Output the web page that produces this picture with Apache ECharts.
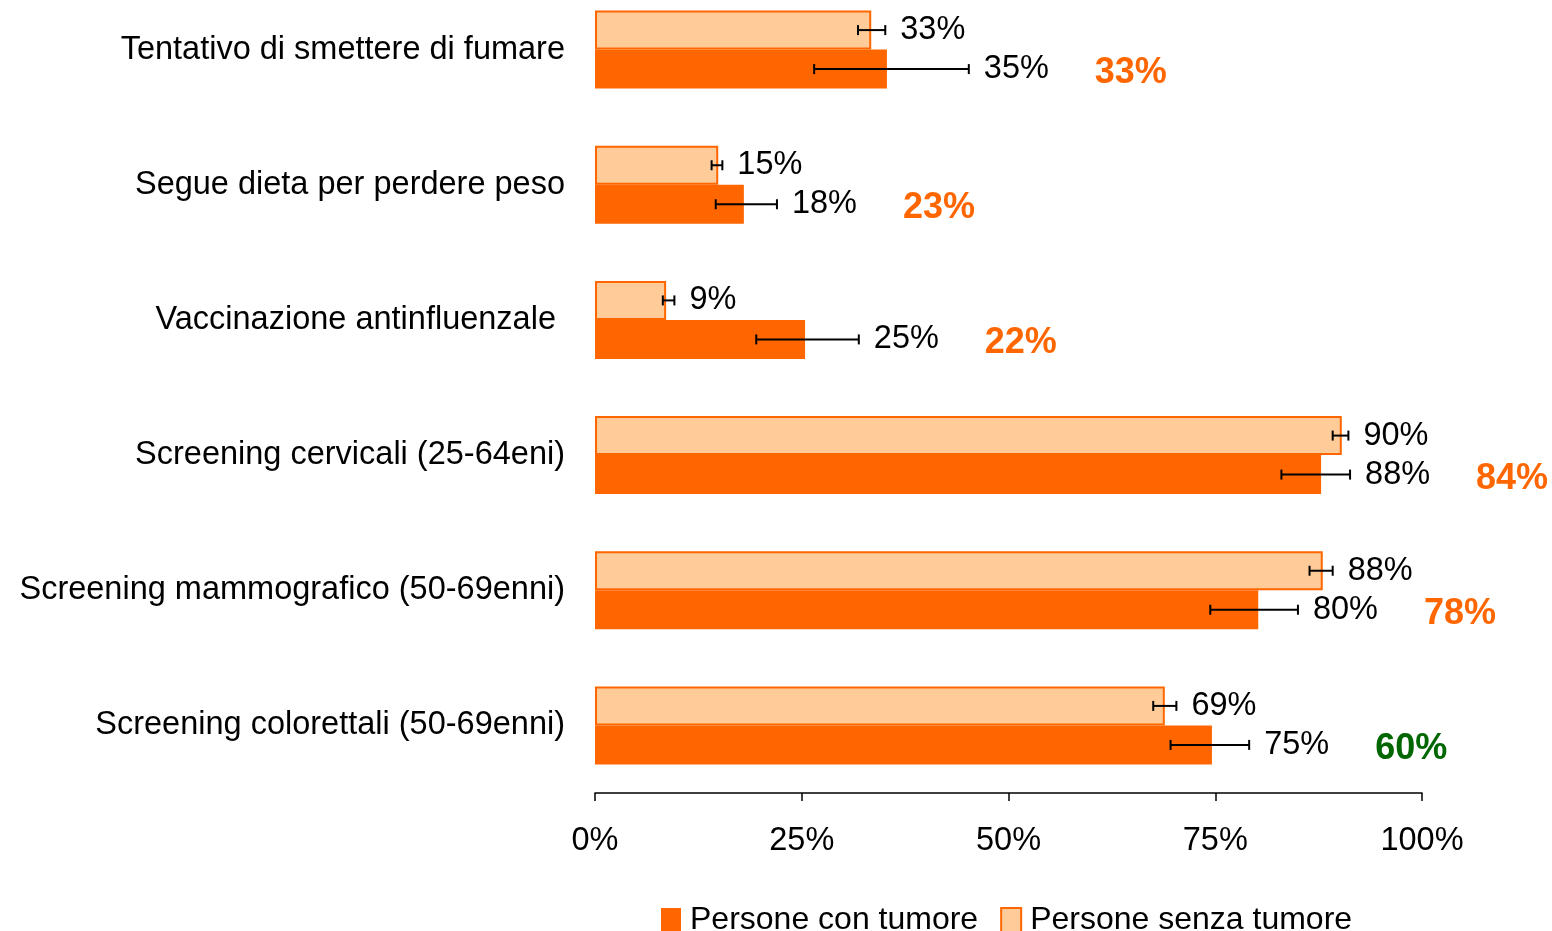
<!DOCTYPE html>
<html>
<head>
<meta charset="utf-8">
<script src="https://cdn.jsdelivr.net/npm/echarts@6/dist/echarts.min.js"></script>
<style>
html,body{margin:0;padding:0;background:#fff;}
#chart{width:1552px;height:931px;}
</style>
</head>
<body>
<div id="chart"></div>
<script>
// ---- data ----
const categories = [
  'Tentativo di smettere di fumare',
  'Segue dieta per perdere peso',
  'Vaccinazione antinfluenzale ',
  'Screening cervicali (25-64eni)',
  'Screening mammografico (50-69enni)',
  'Screening colorettali (50-69enni)'
];
const conTumore      = [35.3, 18.0, 25.4, 87.8, 80.2, 74.6];
const conTumoreLow   = [26.5, 14.6, 19.5, 83.0, 74.4, 69.6];
const conTumoreHigh  = [45.2, 22.0, 31.9, 91.3, 85.0, 79.1];
const senzaTumore     = [33.4, 14.9, 8.6, 90.3, 88.0, 68.9];
const senzaTumoreLow  = [31.8, 14.1, 8.2, 89.2, 86.4, 67.5];
const senzaTumoreHigh = [35.1, 15.4, 9.6, 91.1, 89.2, 70.3];
const riferimento = [33, 23, 22, 84, 78, 60];
const riferimentoColori = ['#FF6600', '#FF6600', '#FF6600', '#FF6600', '#FF6600', '#006600'];
const xTicks = [0, 25, 50, 75, 100];

// ---- styles ----
const FONT = 'Liberation Sans, Arial, sans-serif';
const DARK = '#FF6600';
const LIGHT = '#FFCC99';
const BAR_W = 39;
const FS = 32.5;

function errSeries(name, vals, lows, highs, sign, withRef) {
  return {
    type: 'custom',
    name: name + '_err',
    z: 5,
    clip: false,
    silent: true,
    encode: { x: [1, 2], y: 0 },
    data: categories.map((c, i) => [i, lows[i], highs[i], vals[i]]),
    renderItem: function (params, api) {
      const i = api.value(0);
      const lo = api.coord([api.value(1), i]);
      const hi = api.coord([api.value(2), i]);
      const y = lo[1] + sign * BAR_W / 2;
      const cap = 5;
      const st = { stroke: '#000', lineWidth: 2 };
      const children = [
        { type: 'line', shape: { x1: lo[0], y1: y, x2: hi[0], y2: y }, style: st },
        { type: 'line', shape: { x1: lo[0], y1: y - cap, x2: lo[0], y2: y + cap }, style: st },
        { type: 'line', shape: { x1: hi[0], y1: y - cap, x2: hi[0], y2: y + cap }, style: st },
        { type: 'text', x: hi[0] + 15, y: y, style: {
            text: Math.round(api.value(3)) + '%', fill: '#000',
            font: FS + 'px ' + FONT, textAlign: 'left', textVerticalAlign: 'middle' } }
      ];
      if (withRef) {
        children.push({ type: 'text', x: hi[0] + 126, y: y + 4, style: {
          text: riferimento[i] + '%', fill: riferimentoColori[i],
          font: 'bold 36px ' + FONT, textAlign: 'left', textVerticalAlign: 'middle' } });
      }
      return { type: 'group', children: children };
    }
  };
}

const chart = echarts.init(document.getElementById('chart'), null, { renderer: 'canvas' });
chart.setOption({
  animation: false,
  backgroundColor: '#fff',
  textStyle: { fontFamily: FONT },
  grid: { left: 595, right: 130, top: -18, bottom: 138, containLabel: false, outerBoundsMode: 'none' },
  legend: {
    left: 656, top: 899,
    icon: 'rect',
    itemWidth: 20, itemHeight: 24, itemGap: 22,
    textStyle: { fontSize: 32, color: '#000', fontFamily: FONT, padding: [0, 0, 0, 4] },
    data: [
      { name: 'Persone con tumore', itemStyle: { color: DARK, borderWidth: 0 } },
      { name: 'Persone senza tumore', itemStyle: { color: LIGHT, borderColor: DARK, borderWidth: 2 } }
    ]
  },
  xAxis: {
    type: 'value', min: xTicks[0], max: xTicks[xTicks.length - 1], interval: 25,
    axisLine: { show: true, lineStyle: { color: '#000', width: 1.5 } },
    axisTick: { show: true, length: 8, lineStyle: { color: '#000', width: 1.5 } },
    splitLine: { show: false },
    axisLabel: { formatter: '{value}%', fontSize: FS, color: '#000', margin: 32, fontFamily: FONT }
  },
  yAxis: {
    type: 'category', data: categories, inverse: true,
    axisLine: { show: false }, axisTick: { show: false },
    axisLabel: { fontSize: FS, color: '#000', margin: 30, fontFamily: FONT }
  },
  series: [
    { type: 'bar', name: 'Persone senza tumore', data: senzaTumore, barWidth: BAR_W, barGap: '0%',
      itemStyle: { color: LIGHT, borderColor: DARK, borderWidth: 2 } },
    { type: 'bar', name: 'Persone con tumore', data: conTumore, barWidth: BAR_W, barGap: '0%',
      itemStyle: { color: DARK } },
    errSeries('con', conTumore, conTumoreLow, conTumoreHigh, 1, true),
    errSeries('senza', senzaTumore, senzaTumoreLow, senzaTumoreHigh, -1, false)
  ]
});
</script>
</body>
</html>
